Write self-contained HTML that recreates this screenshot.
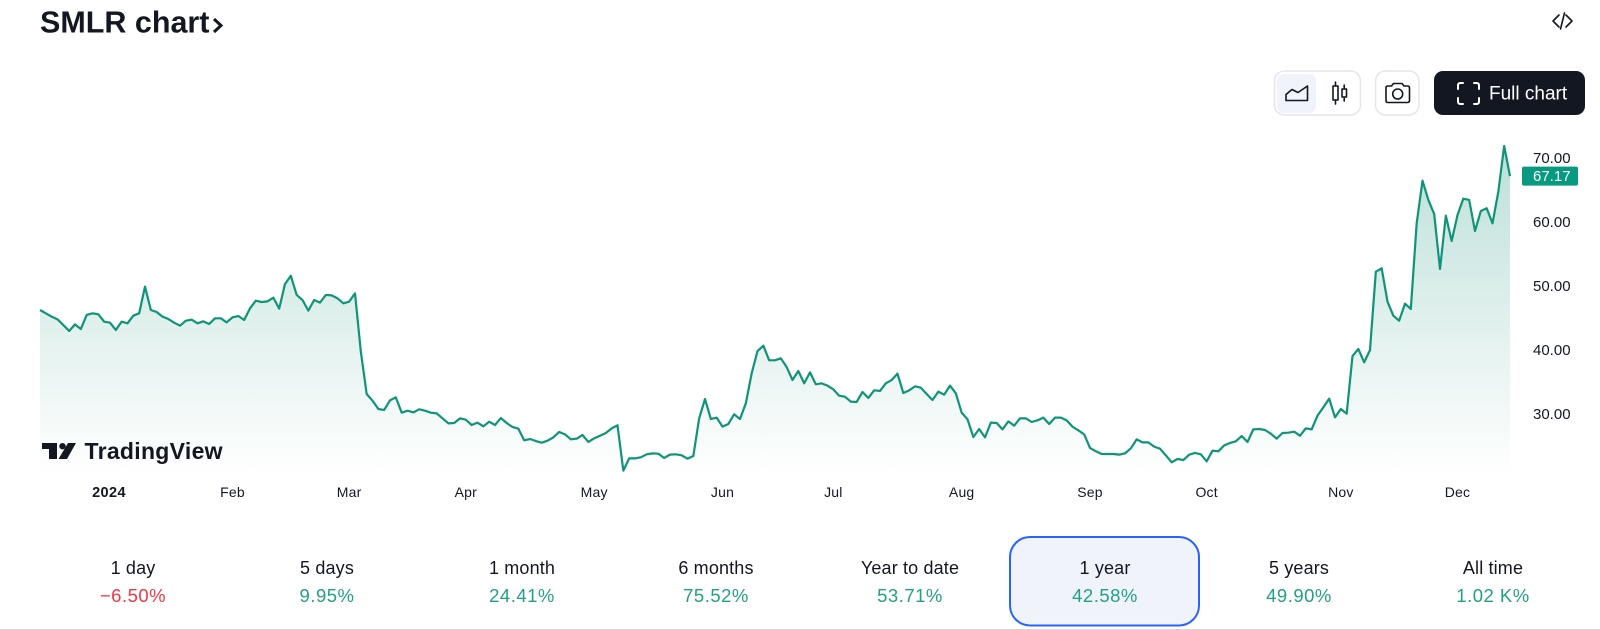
<!DOCTYPE html>
<html lang="en">
<head>
<meta charset="utf-8">
<title>SMLR chart</title>
<style>
  html, body { margin: 0; padding: 0; background: #fff; }
  body { width: 1600px; height: 630px; overflow: hidden; font-family: "Liberation Sans", sans-serif; }
  svg { display: block; }
  text { font-family: "Liberation Sans", sans-serif; }
  .tab-label { font-size: 18px; fill: #131722; text-anchor: middle; letter-spacing: .15px; }
  .tab-value { font-size: 18.5px; fill: #22a085; text-anchor: middle; letter-spacing: .5px; }
  .btn { fill: #fff; stroke: #e4e6ec; stroke-width: 1.5; }
  .ico { fill: none; stroke: #131722; stroke-width: 1.6; stroke-linejoin: round; stroke-linecap: round; }
</style>
</head>
<body>
<svg id="root" width="1600" height="630" viewBox="0 0 1600 630" xmlns="http://www.w3.org/2000/svg">
  <defs>
    <linearGradient id="areaGrad" gradientUnits="userSpaceOnUse" x1="0" y1="146" x2="0" y2="474">
      <stop offset="0" stop-color="#0a8a72" stop-opacity="0.27"/>
      <stop offset="1" stop-color="#0a8a72" stop-opacity="0"/>
    </linearGradient>
  </defs>

  <!-- Header -->
  <g>
    <text x="40" y="32.5" font-size="30.5" font-weight="700" fill="#131722">SMLR chart</text>
    <polyline points="214,19 221,25.5 214,32" fill="none" stroke="#131722" stroke-width="3"/>
  </g>
  <g class="ico">
    <polyline points="1559,15 1553,21 1559,27"/>
    <polyline points="1566,15 1572,21 1566,27"/>
    <line x1="1564.5" y1="13" x2="1560.5" y2="29"/>
  </g>

  <!-- Toolbar -->
  <g>
    <rect class="btn" x="1274.5" y="71" width="86" height="44" rx="10"/>
    <g>
      <rect x="1277" y="74" width="39" height="39" rx="7" fill="#f0f3fa"/>
      <path class="ico" d="M1286 100.5 V94.500 L1292 89.500 L1298 92.500 L1307.500 86 V100.5 Z"/>
    </g>
    <g class="ico">
      <rect x="1333" y="86" width="5" height="14"/>
      <line x1="1335.500" y1="82" x2="1335.500" y2="86"/>
      <line x1="1335.500" y1="100" x2="1335.500" y2="104"/>
      <rect x="1342" y="89" width="4.500" height="8"/>
      <line x1="1344.200" y1="85" x2="1344.200" y2="89"/>
      <line x1="1344.200" y1="97" x2="1344.200" y2="101"/>
    </g>
  </g>
  <g>
    <rect class="btn" x="1375.500" y="71" width="43.500" height="44" rx="10"/>
    <path class="ico" d="M1386 87.500 Q1386 86 1388 86 H1391.500 L1393.500 83.500 H1402 L1404 86 H1407.500 Q1409.500 86 1409.500 88 V100.500 Q1409.500 102.500 1407.500 102.500 H1388 Q1386 102.500 1386 100.500 Z"/>
    <circle class="ico" cx="1397.700" cy="94" r="5"/>
  </g>
  <g>
    <rect x="1434" y="71" width="151" height="44" rx="9" fill="#131722"/>
    <g fill="none" stroke="#fff" stroke-width="2" stroke-linecap="round">
      <path d="M1458 89 V85.500 Q1458 83 1460.500 83 H1463"/>
      <path d="M1474 83 H1476.500 Q1479 83 1479 85.500 V89"/>
      <path d="M1479 98 V101.500 Q1479 104 1476.500 104 H1474"/>
      <path d="M1463 104 H1460.500 Q1458 104 1458 101.500 V98"/>
    </g>
    <text x="1489" y="99.500" font-size="19" fill="#fff">Full chart</text>
  </g>

  <g id="plot"></g>
  <g id="yAxis"></g>
  <g id="xAxis"></g>

  <!-- Watermark -->
  <g>
    <g fill="#131722">
      <polygon points="42,443 57,443 57,459 49,459 49,449 42,449"/>
      <circle cx="62.500" cy="446.200" r="3.200"/>
      <polygon points="68,443 76,443 67,459 58.500,459"/>
    </g>
    <text x="84.500" y="459" font-size="23" font-weight="700" fill="#131722" letter-spacing=".3">TradingView</text>
  </g>

  <!-- Range tabs -->
  <g>
    <g>
      <text class="tab-label" x="133" y="574">1 day</text>
      <text class="tab-value" x="133" y="602" style="fill:#f23645">−6.50%</text>
    </g>
    <g>
      <text class="tab-label" x="327" y="574">5 days</text>
      <text class="tab-value" x="327" y="602">9.95%</text>
    </g>
    <g>
      <text class="tab-label" x="522" y="574">1 month</text>
      <text class="tab-value" x="522" y="602">24.41%</text>
    </g>
    <g>
      <text class="tab-label" x="716" y="574">6 months</text>
      <text class="tab-value" x="716" y="602">75.52%</text>
    </g>
    <g>
      <text class="tab-label" x="910" y="574">Year to date</text>
      <text class="tab-value" x="910" y="602">53.71%</text>
    </g>
    <g>
      <rect x="1010" y="537" width="189" height="88.500" rx="20" fill="#f0f3fa" stroke="#2962ff" stroke-width="2"/>
      <text class="tab-label" x="1105" y="574">1 year</text>
      <text class="tab-value" x="1105" y="602">42.58%</text>
    </g>
    <g>
      <text class="tab-label" x="1299" y="574">5 years</text>
      <text class="tab-value" x="1299" y="602">49.90%</text>
    </g>
    <g>
      <text class="tab-label" x="1493" y="574">All time</text>
      <text class="tab-value" x="1493" y="602">1.02 K%</text>
    </g>
  </g>
  <rect x="0" y="629" width="1600" height="1" fill="#d8d8d8"/>
</svg>

<script>
const prices = [
46.25,45.73,45.21,44.79,43.9,42.97,44.0,43.28,45.47,45.73,45.57,44.43,44.27,43.13,44.43,44.17,45.36,45.73,49.9,46.25,
45.94,45.21,44.84,44.27,43.8,44.58,44.74,44.17,44.48,44.06,44.95,44.95,44.32,45.1,45.31,44.69,46.51,47.71,47.5,47.6,
48.18,46.46,50.31,51.6,48.6,47.81,46.15,47.81,47.4,48.6,48.54,48.07,47.29,47.55,48.85,39.74,33.13,
32.08,30.78,30.63,32.14,32.6,30.21,30.52,30.26,30.73,30.52,30.21,30.1,29.32,28.54,28.59,29.32,29.11,28.28,28.65,28.07,
28.8,28.28,29.37,28.59,27.97,27.71,25.89,26.09,25.78,25.52,25.83,26.35,27.19,26.82,26.04,26.15,26.72,25.63,26.2,26.61,
27.03,27.76,28.23,21.15,23.07,23.07,23.23,23.7,23.85,23.8,23.13,23.65,23.7,23.54,23.02,23.44,
29.32,32.34,29.22,29.43,28.02,28.44,29.95,29.22,31.67,36.35,39.84,40.68,38.39,38.39,38.7,37.34,35.31,36.72,34.79,36.51,
34.64,34.79,34.43,33.85,32.86,32.71,31.93,31.88,33.44,32.5,33.7,33.6,34.79,35.31,36.3,33.28,33.7,34.32,34.11,33.13,
32.19,33.49,33.02,34.43,33.23,30.21,29.17,26.41,27.66,26.35,28.65,28.59,27.6,28.85,28.18,29.32,29.32,28.75,29.01,
29.43,28.44,29.43,29.43,29.01,28.02,27.45,26.82,24.69,24.17,23.75,23.75,23.75,23.65,23.85,24.64,26.04,25.57,25.57,24.9,
24.58,23.54,22.45,22.97,22.81,23.65,23.91,23.7,22.6,24.27,24.17,25.1,25.47,25.73,26.56,25.63,27.6,27.66,27.5,26.93,
26.15,27.03,27.08,27.24,26.61,27.76,27.6,29.74,31.04,32.4,29.48,30.78,30.05,
39.06,40.16,38.07,40.0,52.24,52.76,47.55,45.36,44.58,47.24,46.41,59.79,66.46,63.44,61.25,52.66,60.99,57.03,61.09,63.65,
63.44,58.59,61.72,62.14,59.79,64.74,71.88,67.17
];
const yTickValues = [30, 40, 50, 60, 70];
const timeLabels = ["2024", "Feb", "Mar", "Apr", "May", "Jun", "Jul", "Aug", "Sep", "Oct", "Nov", "Dec"];
const timeLabelIndexes = [12, 33, 53, 73, 95, 117, 136, 158, 180, 200, 223, 243];

const NS = "http://www.w3.org/2000/svg";
const plotLeft = 40, plotRight = 1510, plotBottom = 474;
function xScale(i) { return plotLeft + i * (plotRight - plotLeft) / (prices.length - 1); }
function yScale(p) { return 414 - (p - 30) * 6.4; }

const plot = document.getElementById("plot");
const linePts = prices.map(function (p, i) { return xScale(i).toFixed(2) + "," + yScale(p).toFixed(2); }).join(" ");

const area = document.createElementNS(NS, "polygon");
area.setAttribute("points", plotLeft + "," + plotBottom + " " + linePts + " " + xScale(prices.length - 1).toFixed(2) + "," + plotBottom);
area.setAttribute("fill", "url(#areaGrad)");


plot.appendChild(area);

const line = document.createElementNS(NS, "polyline");
line.setAttribute("points", linePts);
line.setAttribute("fill", "none");
line.setAttribute("stroke", "#0f9478");
line.setAttribute("stroke-width", "2.2");
line.setAttribute("stroke-linejoin", "round");


plot.appendChild(line);

const yAxis = document.getElementById("yAxis");
yTickValues.forEach(function (v) {
  const t = document.createElementNS(NS, "text");
  t.setAttribute("x", 1533);
  t.setAttribute("y", yScale(v) + 5);
  t.setAttribute("font-size", "15");
  t.setAttribute("fill", "#131722");
  
  
  t.textContent = v.toFixed(2);
  yAxis.appendChild(t);
});

const lastPrice = prices[prices.length - 1];
const badge = document.createElementNS(NS, "rect");
badge.setAttribute("x", 1522);
badge.setAttribute("y", yScale(lastPrice) - 9.5);
badge.setAttribute("width", 56);
badge.setAttribute("height", 19);
badge.setAttribute("rx", 2);
badge.setAttribute("fill", "#089981");


yAxis.appendChild(badge);

const badgeText = document.createElementNS(NS, "text");
badgeText.setAttribute("x", 1533);
badgeText.setAttribute("y", yScale(lastPrice) + 5);
badgeText.setAttribute("font-size", "15");
badgeText.setAttribute("fill", "#fff");


badgeText.textContent = lastPrice.toFixed(2);
yAxis.appendChild(badgeText);

const xAxis = document.getElementById("xAxis");
timeLabels.forEach(function (label, k) {
  const t = document.createElementNS(NS, "text");
  t.setAttribute("x", xScale(timeLabelIndexes[k]) - (k === 0 ? 1 : 0));
  t.setAttribute("y", 497);
  t.setAttribute("font-size", k === 0 ? "14.5" : "14");
  t.setAttribute("text-anchor", "middle");
  t.setAttribute("letter-spacing", k === 0 ? ".4" : ".2");
  t.setAttribute("fill", "#131722");
  if (k === 0) { t.setAttribute("font-weight", "700"); }
  
  
  t.textContent = label;
  xAxis.appendChild(t);
});
</script>
</body>
</html>
